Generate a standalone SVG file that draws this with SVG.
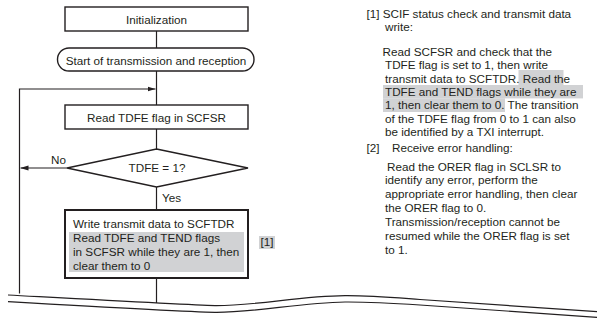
<svg xmlns="http://www.w3.org/2000/svg" width="601" height="325" viewBox="0 0 601 325">
<defs>
<style>
text{font-family:"Liberation Sans",Arial,Helvetica,sans-serif;font-size:11.7px;fill:#231f20}
.c{text-anchor:middle}
.box{fill:#fff;stroke:#231f20;stroke-width:1.4}
.ln{fill:none;stroke:#231f20;stroke-width:1.2}
.hl{fill:#d1d2d4}
</style>
<marker id="ah" viewBox="0 0 8 6" refX="8" refY="3" markerWidth="8" markerHeight="6" markerUnits="userSpaceOnUse" orient="auto">
<path d="M0,0.6 L8,3 L0,5.4 Z" fill="#231f20"/>
</marker>
</defs>
<rect width="601" height="325" fill="#fff"/>
<g id="connectors">
<line class="ln" x1="156.5" y1="31" x2="156.5" y2="48"/>
<line class="ln" x1="156.5" y1="71" x2="156.5" y2="105"/>
<line class="ln" x1="156.5" y1="129" x2="156.5" y2="149"/>
<line class="ln" x1="156.5" y1="187" x2="156.5" y2="210"/>
<line class="ln" x1="156.5" y1="278" x2="156.5" y2="303"/>
<line class="ln" x1="67" y1="168" x2="20.5" y2="168" marker-end="url(#ah)"/>
<polyline class="ln" points="19.5,293.5 19.5,89 155.5,89" marker-end="url(#ah)"/>
<text x="51" y="164">No</text>
<text x="162" y="201.5">Yes</text>
</g>
<g id="n-init">
<rect class="box" x="65" y="7" width="183" height="24"/>
<text class="c" x="156.5" y="23.5">Initialization</text>
</g>
<g id="n-start">
<rect class="box" x="57.5" y="48" width="196.5" height="23" rx="11.5"/>
<text class="c" x="156" y="64.5">Start of transmission and reception</text>
</g>
<g id="n-read">
<rect class="box" x="65" y="105" width="183" height="24"/>
<text class="c" x="156.5" y="122">Read TDFE flag in SCFSR</text>
</g>
<g id="n-dec">
<polygon class="box" points="156.5,149 248,168 156.5,187 67,168"/>
<text class="c" x="157" y="172">TDFE = 1?</text>
</g>
<g id="n-write">
<rect x="65" y="210" width="183" height="68" fill="#fff" stroke="#231f20" stroke-width="2"/>
<rect class="hl" x="69" y="232" width="175" height="40"/>
<text x="73" y="228">Write transmit data to SCFTDR</text>
<text x="73" y="242">Read TDFE and TEND flags</text>
<text x="73" y="256">in SCFSR while they are 1, then</text>
<text x="73" y="270">clear them to 0</text>
</g>
<g id="n-label1">
<rect class="hl" x="259" y="236" width="16" height="13"/>
<text x="260.5" y="246">[1]</text>
</g>
<g id="notes">
<rect class="hl" x="518.5" y="70" width="45" height="15"/>
<rect class="hl" x="383" y="85" width="200" height="13.4"/>
<rect class="hl" x="383" y="98.3" width="122" height="13.7"/>
<text x="366.5" y="17.5">[1] SCIF status check and transmit data</text>
<text x="385" y="30.5">write:</text>
<text x="382.5" y="56">Read SCFSR and check that the</text>
<text x="385" y="69.3">TDFE flag is set to 1, then write</text>
<text x="385" y="82.6">transmit data to SCFTDR. Read the</text>
<text x="385" y="95.9">TDFE and TEND flags while they are</text>
<text x="385" y="109.2">1, then clear them to 0.  The transition</text>
<text x="385" y="122.5">of the TDFE flag from 0 to 1 can also</text>
<text x="385" y="135.8">be identified by a TXI interrupt.</text>
<text x="366.5" y="152">[2]</text>
<text x="392" y="152">Receive error handling:</text>
<text x="387" y="170.5">Read the ORER flag in SCLSR to</text>
<text x="385" y="184.4">identify any error, perform the</text>
<text x="385" y="198.3">appropriate error handling, then clear</text>
<text x="385" y="212.2">the ORER flag to 0.</text>
<text x="385" y="226.1">Transmission/reception cannot be</text>
<text x="385" y="240">resumed while the ORER flag is set</text>
<text x="385" y="254">to 1.</text>
</g>
<g id="break">
<path class="ln" d="M8,295 C100,300 190,305 215,305.6 C255,306 300,296 345,295.7 C370,295.5 390,297.3 420,299.5 L597,311.7"/>
<path class="ln" d="M8,301.7 C100,307 190,312 215,312.4 C255,312.8 300,302.5 345,302 C370,301.8 390,303 420,305 L597,317.3"/>
</g>
</svg>
